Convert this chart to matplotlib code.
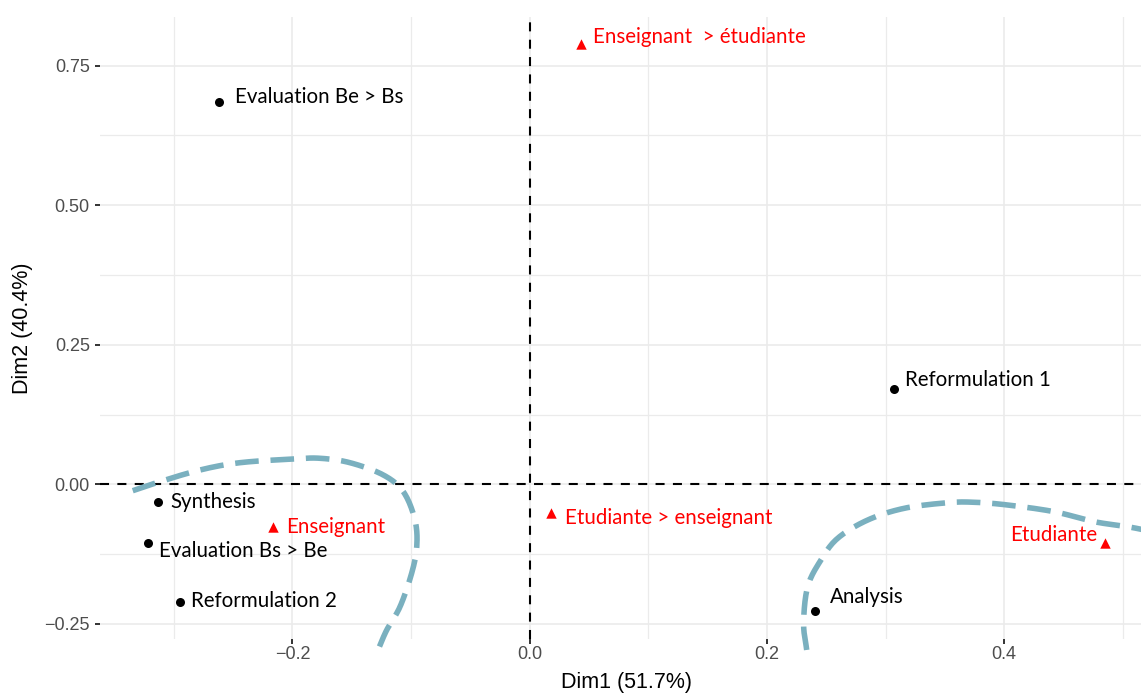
import matplotlib
matplotlib.use("Agg")
import matplotlib.pyplot as plt
import numpy as np

# ---------------- data ----------------
row_names = ["Evaluation Be > Bs", "Synthesis", "Evaluation Bs > Be",
             "Reformulation 2", "Reformulation 1", "Analysis"]
row_dim1 = [-0.2621, -0.3130, -0.3214, -0.2947, 0.3068, 0.2405]
row_dim2 = [0.6854, -0.0317, -0.1046, -0.2103, 0.1702, -0.2270]

col_names = ["Enseignant  > étudiante", "Enseignant", "Etudiante > enseignant", "Etudiante"]
col_dim1 = [0.0432, -0.2161, 0.0183, 0.4849]
col_dim2 = [0.7882, -0.0770, -0.0520, -0.1057]

x_ticks = [-0.2, 0.0, 0.2, 0.4]
x_tick_labels = ["\u22120.2", "0.0", "0.2", "0.4"]
y_ticks = [-0.25, 0.0, 0.25, 0.50, 0.75]
y_tick_labels = ["\u22120.25", "0.00", "0.25", "0.50", "0.75"]
x_label = "Dim1 (51.7%)"
y_label = "Dim2 (40.4%)"

# hand-drawn highlight curves (annotation shapes, data coordinates)
left_curve_x = [-0.3346, -0.3144, -0.2779, -0.2442, -0.1992, -0.1767, -0.1515,
                -0.1234, -0.1065, -0.0967, -0.0952, -0.0995, -0.1093, -0.1205, -0.1276]
left_curve_y = [-0.0115, 0.0029, 0.0256, 0.0387, 0.0453, 0.0466, 0.0387,
                0.0167, -0.0133, -0.0640, -0.1118, -0.1594, -0.2193, -0.2610, -0.2956]
right_curve_x = [0.2335, 0.2309, 0.2343, 0.2455, 0.2596, 0.2849, 0.3157, 0.3523,
                 0.3747, 0.4029, 0.4421, 0.4759, 0.5040, 0.5186]
right_curve_y = [-0.2968, -0.2490, -0.1834, -0.1356, -0.0967, -0.0640, -0.0430, -0.0330,
                 -0.0322, -0.0371, -0.0491, -0.0670, -0.0760, -0.0820]

# ---------------- label placement (pixel offsets from points) ----------------
row_offsets = [(16, 5, "left"), (12, 0, "left"), (11, -8, "left"),
               (11, 1, "left"), (11, 9, "left"), (15, 14, "left")]
col_offsets = [(12, 7, "left"), (13, 0, "left"), (14, -5, "left"), (-8, 8, "right")]


def smooth_path(xs, ys, n=12):
    """Catmull-Rom smoothing of a hand-drawn annotation stroke."""
    p = np.column_stack([xs, ys]).astype(float)
    p = np.vstack([p[0] * 2 - p[1], p, p[-1] * 2 - p[-2]])
    out = []
    for i in range(1, len(p) - 2):
        p0, p1, p2, p3 = p[i - 1], p[i], p[i + 1], p[i + 2]
        for t in np.linspace(0, 1, n, endpoint=False):
            t2, t3 = t * t, t * t * t
            out.append(0.5 * ((2 * p1) + (-p0 + p2) * t + (2 * p0 - 5 * p1 + 4 * p2 - p3) * t2
                              + (-p0 + 3 * p1 - 3 * p2 + p3) * t3))
    out.append(p[-2])
    out = np.array(out)
    return out[:, 0], out[:, 1]


# ---------------- styling ----------------
plt.rcParams["lines.scale_dashes"] = False
W, H, DPI = 1141, 693, 100
fig = plt.figure(figsize=(W / DPI, H / DPI), dpi=DPI)
left_px, right_px, top_px, bottom_px = 100, 1153, 17.3, 639.3
ax = fig.add_axes([left_px / W, 1 - bottom_px / H,
                   (right_px - left_px) / W, (bottom_px - top_px) / H])
ax.set_xlim(-0.3622, 0.5254)
ax.set_ylim(-0.2777, 0.8366)

for s in ax.spines.values():
    s.set_visible(False)

ax.set_xticks(x_ticks)
ax.set_xticklabels(x_tick_labels)
ax.set_yticks(y_ticks)
ax.set_yticklabels(y_tick_labels)
ax.set_xticks([-0.3, -0.1, 0.1, 0.3, 0.5], minor=True)
ax.set_yticks([-0.125, 0.125, 0.375, 0.625], minor=True)

for lab in ax.get_xticklabels() + ax.get_yticklabels():
    lab.set_fontfamily("Liberation Sans")
    lab.set_fontsize(13)
    lab.set_color("#4D4D4D")
ax.tick_params(which="major", length=3.3, width=1.4, color="#333333")
ax.tick_params(axis="x", which="major", pad=1.5)
ax.tick_params(axis="y", which="major", pad=4)
ax.tick_params(which="minor", length=0)

ax.grid(True, which="major", color="#EBEBEB", linewidth=1.2, zorder=0)
ax.grid(True, which="minor", color="#EBEBEB", linewidth=0.9, zorder=0)
ax.set_axisbelow(True)

ax.set_xlabel(x_label, fontfamily="Liberation Sans", fontsize=15.5, color="black")
ax.set_ylabel(y_label, fontfamily="Liberation Sans", fontsize=15.5, color="black")
ax.xaxis.set_label_coords(0.5, -0.0691)
ax.xaxis.label.set_va("center")
ax.yaxis.set_label_coords(-0.0734, 0.5)
ax.yaxis.label.set_va("center")

# reference lines
ax.axhline(0, color="black", linewidth=1.5, linestyle=(0, (6.5, 6.0)), zorder=2)
ax.axvline(0, color="black", linewidth=1.5, linestyle=(0, (6.5, 6.0)), zorder=2)

# highlight curves
curve_color = "#7AB0BF"
for cx, cy in [(left_curve_x, left_curve_y), (right_curve_x, right_curve_y)]:
    sx, sy = smooth_path(cx, cy)
    ax.plot(sx, sy, color=curve_color, linewidth=4.0,
            linestyle=(0, (17, 8.5)), dash_capstyle="butt",
            dash_joinstyle="round", zorder=3, clip_on=False)

# points
ax.scatter(row_dim1, row_dim2, s=6.5 ** 2, color="black", marker="o", zorder=4, linewidths=0)
ax.scatter(col_dim1, col_dim2, s=7.5 ** 2, color="#FF0000", marker="^", zorder=4, linewidths=0)

label_font = "Lato"
label_size = 14.8
for name, x, y, (dx, dy, ha) in zip(row_names, row_dim1, row_dim2, row_offsets):
    ax.annotate(name, (x, y), xytext=(dx, dy), textcoords="offset pixels",
                ha=ha, va="center", fontsize=label_size, fontfamily=label_font, color="black", zorder=5)
for name, x, y, (dx, dy, ha) in zip(col_names, col_dim1, col_dim2, col_offsets):
    ax.annotate(name, (x, y), xytext=(dx, dy), textcoords="offset pixels",
                ha=ha, va="center", fontsize=label_size, fontfamily=label_font, color="#FF0000", zorder=5)

fig.savefig("out.png", dpi=DPI)
